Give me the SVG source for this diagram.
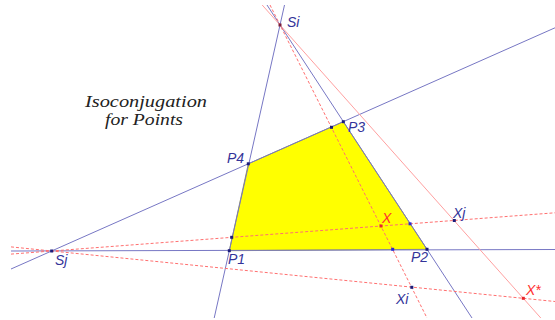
<svg xmlns="http://www.w3.org/2000/svg" width="555" height="320" viewBox="0 0 555 320">
<style>
.bl{stroke:#7777c4;stroke-width:1;fill:none}
.rs{stroke:#ffa0a0;stroke-width:1;fill:none}
.rd{stroke:#ff7070;stroke-width:1;fill:none;stroke-dasharray:3 2}
.pt{fill:#1c1c7a}
.rpt{fill:#e8262a}
.lb{font-family:"Liberation Sans",sans-serif;font-style:italic;font-size:14px;fill:#333399}
.rl{font-family:"Liberation Sans",sans-serif;font-style:italic;font-size:14px;fill:#ff3030}
.tt{font-family:"Liberation Serif",serif;font-style:italic;font-size:16px;fill:#222}
</style>
<rect width="555" height="320" fill="#fff"/>
<g id="quad">
<polygon points="229.3,250.7 427,249.3 343.3,121.7 248.3,163.8" fill="#ffff00" stroke="#8a8a40" stroke-width="0.8"/>
</g>
<g id="connectors">
<line class="bl" x1="284.5" y1="5" x2="214.2" y2="318"/>
<line class="bl" x1="267" y1="5" x2="472" y2="318"/>
<line class="bl" x1="11" y1="269" x2="555" y2="27.8"/>
<line class="bl" x1="11" y1="251" x2="555" y2="249.5"/>
<line class="rs" x1="262.2" y1="5" x2="540.8" y2="318"/>
<line class="rd" x1="270" y1="5" x2="427" y2="318"/>
<line class="rd" x1="11" y1="254.1" x2="555" y2="212.8"/>
<line class="rd" x1="11" y1="246.9" x2="555" y2="301.5"/>
</g>
<g id="title">
<text class="tt" x="85" y="107" textLength="122" lengthAdjust="spacingAndGlyphs">Isoconjugation</text>
<text class="tt" x="105" y="125" textLength="78" lengthAdjust="spacingAndGlyphs">for Points</text>
</g>
<g id="Si"><rect x="278.5" y="23.5" width="3" height="3" fill="#7a1c3a"/><text class="lb" x="287" y="27">Si</text></g>
<g id="Sj"><rect class="pt" x="50.2" y="249.5" width="3" height="3"/><text class="lb" x="55" y="265">Sj</text></g>
<g id="P1"><rect class="pt" x="227.8" y="249.2" width="3" height="3"/><text class="lb" x="228" y="264">P1</text></g>
<g id="P2"><rect class="pt" x="425.5" y="247.8" width="3" height="3"/><text class="lb" x="411" y="262">P2</text></g>
<g id="P3"><rect class="pt" x="341.8" y="120.2" width="3" height="3"/><text class="lb" x="348" y="132">P3</text></g>
<g id="P4"><rect class="pt" x="246.8" y="162.3" width="3" height="3"/><text class="lb" x="227" y="163">P4</text></g>
<g id="aux">
<rect class="pt" x="330" y="125.8" width="3" height="3"/>
<rect class="pt" x="230.2" y="235.8" width="3" height="3"/>
<rect x="408.5" y="222.3" width="3" height="3" fill="#2a2ad0"/>
<rect x="391.2" y="247.8" width="3" height="3" fill="#2a2ad0"/>
</g>
<g id="X"><rect class="rpt" x="379.5" y="224.5" width="3" height="3"/><text class="rl" x="382" y="223">X</text></g>
<g id="Xj"><rect class="pt" x="452.8" y="219" width="3" height="3"/><text class="lb" x="453" y="218">Xj</text></g>
<g id="Xi"><rect class="pt" x="410.3" y="285.8" width="3" height="3"/><text class="lb" x="396" y="304">Xi</text></g>
<g id="Xstar"><rect class="rpt" x="521.8" y="296.8" width="3" height="3"/><text class="rl" x="526" y="295">X*</text></g>
</svg>
